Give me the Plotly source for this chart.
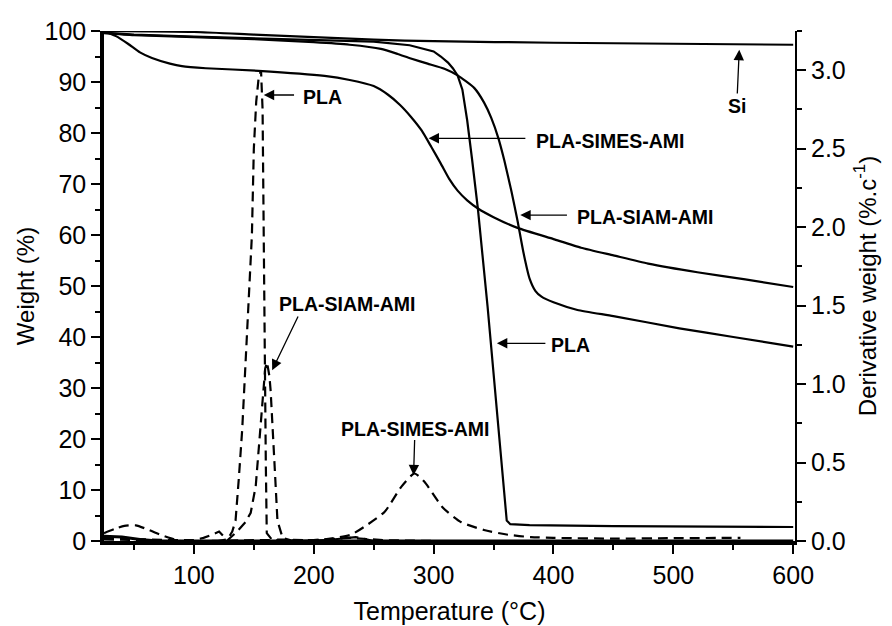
import plotly.graph_objects as go

# ---------------- data ----------------
# TGA curves (left axis, weight %)
si_T = [25, 100, 150, 200, 250, 300, 400, 500, 600]
si_w = [100, 99.8, 99.3, 98.8, 98.3, 98.0, 97.7, 97.5, 97.3]

pla_T = [25, 50, 100, 150, 200, 250, 280, 300, 306, 312, 316, 320, 324, 328, 332, 337,
         345, 353, 358, 361, 364, 380, 450, 520, 600]
pla_w = [99.7, 99.3, 98.9, 98.6, 98.3, 97.9, 97.2, 96.0, 95.0, 93.8, 92.7, 91.3, 88.5, 82.5, 75, 65,
         46, 25, 11.5, 4.0, 3.3, 3.1, 2.9, 2.8, 2.75]

siam_T = [25, 50, 100, 150, 200, 230, 256, 270, 281, 295, 309, 320, 334, 342, 348, 354, 359,
          365, 370, 375, 380, 385, 390, 400, 420, 450, 505, 550, 600]
siam_w = [99.6, 99.2, 98.8, 98.4, 97.8, 97.3, 96.5, 95.5, 94.6, 93.6, 92.6, 91.3, 88.8, 86, 83, 79, 74.6,
          68.5, 62.8, 56.5, 51.5, 49.0, 47.9, 46.8, 45.3, 44.1, 41.7, 40.0, 38.1]

simes_T = [25, 35, 45, 55, 65, 80, 90, 110, 154, 209, 230, 250, 262, 272, 281, 290, 298, 306,
           313, 320, 328, 337, 350, 370, 400, 423, 450, 479, 520, 560, 600]
simes_w = [100, 99, 97.5, 95.8, 94.7, 93.6, 93.1, 92.7, 92.2, 91.2, 90.4, 89.2, 87.5, 85.5, 83.2, 80.5,
           77.3, 74, 71, 68.7, 66.8, 65.2, 63.5, 61.4, 59.2, 57.5, 56, 54.4, 52.7, 51.3, 49.8]

# DTG curves (right axis, %/°C)
dpla_T = [25, 60, 100, 120, 128, 132, 134.75, 137.5, 140.3, 144.5, 148.4, 150, 152, 154, 156,
          157.3, 158.3, 159.3, 160, 160.8, 165, 200, 230, 260, 300, 400, 556]
dpla_v = [0.02, 0.01, 0.0, 0.0, 0.01, 0.06, 0.13, 0.4, 0.71, 1.35, 1.95, 2.5, 2.8, 2.95, 3.0,
          2.75, 1.8, 1.1, 0.5, 0.05, 0.01, 0.005, 0.02, 0.005, 0.0, 0.0, 0.0]

dsiam_T = [25, 60, 100, 108, 115, 121, 128, 136, 143, 147.4, 151.6, 154.4, 157.2, 159.5, 161,
           163, 164, 166, 167.2, 169.7, 174, 183, 210, 235, 250, 300, 400, 556]
dsiam_v = [0.01, 0.005, 0.005, 0.02, 0.04, 0.06, 0.005, 0.06, 0.12, 0.18, 0.35, 0.6, 0.86, 1.1, 1.14,
           1.05, 0.96, 0.7, 0.5, 0.13, 0.02, 0.0, 0.005, 0.025, 0.0, 0.0, 0.0, 0.0]

dsimes_T = [25, 35, 42, 51.5, 62.6, 72.6, 80.9, 89, 110, 150, 184, 209, 231, 242, 259, 273, 284,
            292, 308, 323, 342, 362, 381, 400, 450, 500, 556]
dsimes_v = [0.05, 0.08, 0.096, 0.10, 0.07, 0.038, 0.017, 0.0, 0.0, 0.005, 0.005, 0.01, 0.04, 0.09,
            0.185, 0.345, 0.43, 0.38, 0.21, 0.12, 0.07, 0.04, 0.025, 0.02, 0.015, 0.018, 0.02]

dsi_T = [25, 40, 55, 70, 600]
dsi_v = [0.03, 0.025, 0.01, 0.0, 0.0]

x_ticks = [100, 200, 300, 400, 500, 600]
y_ticks = [0, 10, 20, 30, 40, 50, 60, 70, 80, 90, 100]
y2_ticks = [0.0, 0.5, 1.0, 1.5, 2.0, 2.5, 3.0]
y2_labels = ["0.0", "0.5", "1.0", "1.5", "2.0", "2.5", "3.0"]

# ---------------- figure ----------------
FONT = "Liberation Sans, Arial, sans-serif"
fig = go.Figure()

solid = dict(color="black", width=2.2)
dashed = dict(color="black", width=2.2, dash="10px,6px")

fig.add_trace(go.Scatter(x=si_T, y=si_w, mode="lines", line=dict(solid, shape="spline", smoothing=0.6)))
fig.add_trace(go.Scatter(x=pla_T, y=pla_w, mode="lines", line=solid))
fig.add_trace(go.Scatter(x=siam_T, y=siam_w, mode="lines", line=dict(solid, shape="spline", smoothing=0.5)))
fig.add_trace(go.Scatter(x=simes_T, y=simes_w, mode="lines", line=dict(solid, shape="spline", smoothing=0.5)))

fig.add_trace(go.Scatter(x=dpla_T, y=dpla_v, mode="lines", line=dashed, yaxis="y2"))
fig.add_trace(go.Scatter(x=dsiam_T, y=dsiam_v, mode="lines", line=dashed, yaxis="y2"))
fig.add_trace(go.Scatter(x=dsimes_T, y=dsimes_v, mode="lines",
                         line=dict(dashed, shape="spline", smoothing=0.6), yaxis="y2"))
fig.add_trace(go.Scatter(x=dsi_T, y=dsi_v, mode="lines", line=dict(color="black", width=3), yaxis="y2"))

# text labels (centre positions, data coordinates of left axis)
labels = [
    ("PLA", 207.7, 87.0),
    ("PLA-SIMES-AMI", 447.3, 78.4),
    ("PLA-SIAM-AMI", 476.4, 63.5),
    ("Si", 553.3, 85.2),
    ("PLA", 413.9, 38.4),
    ("PLA-SIAM-AMI", 228.1, 46.4),
    ("PLA-SIMES-AMI", 284.8, 21.9),
]
for txt, x, y in labels:
    fig.add_annotation(x=x, y=y, xref="x", yref="y", text="<b>%s</b>" % txt, showarrow=False,
                       font=dict(family=FONT, size=19.5, color="black"))

# arrows: (tip_x, tip_y, tail_x, tail_y)
arrows = [
    (158.3, 87.45, 184.8, 87.45),
    (295.8, 78.96, 377.8, 78.96),
    (372.3, 63.9, 412.5, 63.9),
    (555.0, 96.3, 553.3, 87.45),
    (352.8, 38.76, 394.5, 38.76),
    (165.3, 33.5, 187.5, 44.3),
    (283.3, 12.9, 284.2, 20.1),
]
for tx, ty, sx, sy in arrows:
    fig.add_annotation(x=tx, y=ty, ax=sx, ay=sy, xref="x", yref="y", axref="x", ayref="y",
                       text="", showarrow=True, arrowhead=2, arrowsize=1.6, arrowwidth=1.3,
                       arrowcolor="black", standoff=0, startstandoff=0)

tickfont = dict(family=FONT, size=25, color="black")
fig.update_layout(
    width=884, height=618,
    margin=dict(l=96, r=97, t=23, b=85, autoexpand=False),
    paper_bgcolor="white", plot_bgcolor="white",
    showlegend=False,
    font=dict(family=FONT, color="black"),
    xaxis=dict(range=[25, 601.5], tickvals=x_ticks, ticks="outside", ticklen=9, tickwidth=1.5,
               tickcolor="black", showline=True, linewidth=3.5, linecolor="black", showgrid=False,
               zeroline=False, tickfont=tickfont, automargin=False,
               minor=dict(dtick=50, tick0=0, ticks="outside", ticklen=5, tickwidth=1.5, tickcolor="black"),
               title=dict(text="Temperature (°C)", font=dict(family=FONT, size=25), standoff=16)),
    yaxis=dict(range=[0, 100], tickvals=y_ticks, ticks="outside", ticklen=9, tickwidth=1.5,
               tickcolor="black", showline=True, linewidth=3.5, linecolor="black", showgrid=False,
               zeroline=False, tickfont=tickfont, automargin=False,
               minor=dict(dtick=5, tick0=0, ticks="outside", ticklen=5, tickwidth=1.5, tickcolor="black"),
               title=dict(text="Weight (%)", font=dict(family=FONT, size=24), standoff=4)),
    yaxis2=dict(range=[0, 3.25], overlaying="y", side="right", tickvals=y2_ticks, ticktext=y2_labels,
                ticks="outside", ticklen=9, tickwidth=1.5, tickcolor="black", showline=True,
                linewidth=2, linecolor="black", showgrid=False, zeroline=False, tickfont=tickfont,
                automargin=False,
                minor=dict(dtick=0.25, tick0=0, ticks="outside", ticklen=5, tickwidth=1.5, tickcolor="black"),
                title=dict(text="Derivative weight (%.c<sup>-1</sup>)", font=dict(family=FONT, size=24),
                           standoff=14)),
)

fig.write_html("out.html")
